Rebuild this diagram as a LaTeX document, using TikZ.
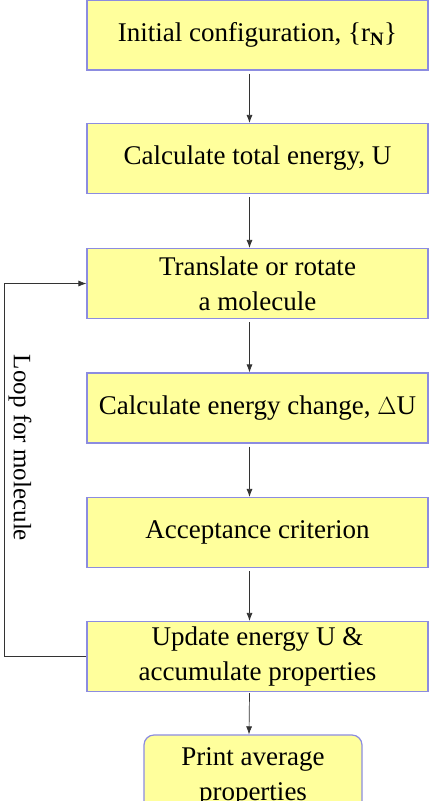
\documentclass[tikz,border=0pt]{standalone}
\usepackage{fontspec}
\setmainfont{Liberation Serif}
\usepackage{xcolor}
\usetikzlibrary{arrows.meta,positioning,calc}
\definecolor{boxfill}{HTML}{FFFF9C}
\definecolor{boxline}{HTML}{8C8CE0}
\begin{document}
\begin{tikzpicture}[
  x=1pt, y=-1pt,
  font=\fontsize{27}{35}\selectfont,
  >={Latex[length=8pt,width=6pt]},
  box/.style={draw=boxline, fill=boxfill, line width=1.2pt, align=center, minimum width=341pt, minimum height=70pt, inner sep=1pt},
  term/.style={box, rounded corners=10pt, minimum width=218pt, minimum height=84pt},
  arr/.style={->, line width=0.7pt, draw=black!80}
]
\useasboundingbox[fill=white] (0,0) rectangle (434,801);
\node[box] (init) at (257.5,35) {Initial configuration, \{r$_{\mathbf{N}}$\}};
\node[box] (total) at (257.5,158.5) {Calculate total energy, U};
\node[box] (move) at (257.5,283.5) {Translate or rotate\\a molecule};
\node[box] (dU) at (257.5,408) {Calculate energy change, $\Delta$U};
\node[box] (acc) at (257.5,532.5) {Acceptance criterion};
\node[box] (upd) at (257.5,656.5) {Update energy U \&\\accumulate properties};
\node[term] (prt) at (253,777) {Print average\\properties};
\draw[arr] ([xshift=-8pt,yshift=-3pt]init.south) -- ([xshift=-8pt]total.north);
\draw[arr] ([xshift=-8pt,yshift=-3pt]total.south) -- ([xshift=-8pt]move.north);
\draw[arr] ([xshift=-8pt,yshift=-3pt]move.south) -- ([xshift=-8pt]dU.north);
\draw[arr] ([xshift=-8pt,yshift=-3pt]dU.south) -- ([xshift=-8pt]acc.north);
\draw[arr] ([xshift=-8pt,yshift=-3pt]acc.south) -- ([xshift=-8pt]upd.north);
\draw[arr] ([xshift=-8pt,yshift=-1pt]upd.south) -- ([xshift=-4pt]prt.north);
% loop back
\draw[arr] (upd.west) -- ++(-82,0) |- (move.west);
\node[rotate=-90, font=\fontsize{25}{28}\selectfont] (loop) at (20,448) {Loop for molecule};
\end{tikzpicture}
\end{document}
